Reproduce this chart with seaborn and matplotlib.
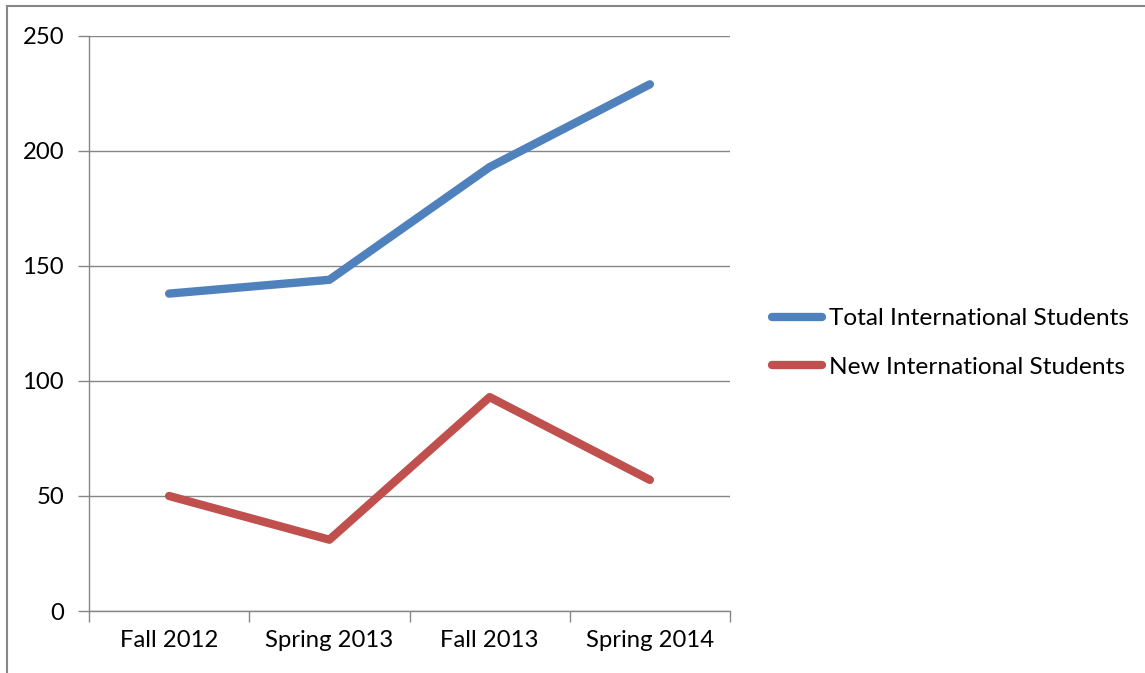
import pandas as pd
import matplotlib.pyplot as plt
import seaborn as sns
from matplotlib.patches import Rectangle

# Dados
semestres = ['Fall 2012', 'Spring 2013', 'Fall 2013', 'Spring 2014']
total_intl = [138, 144, 193, 229]
new_intl = [50, 31, 93, 57]
series_names = ['Total International Students', 'New International Students']
cores = ['#4F81BD', '#C0504D']

df = pd.DataFrame({
    'Semestre': semestres * 2,
    'Alunos': total_intl + new_intl,
    'Serie': [series_names[0]] * 4 + [series_names[1]] * 4,
})

sns.set_style('white')
plt.rcParams['font.family'] = ['Lato', 'DejaVu Sans']
plt.rcParams['text.color'] = 'black'

fig = plt.figure(figsize=(11.45, 6.73), dpi=100)
ax = fig.add_axes([89 / 1145, 1 - 611 / 673, (730 - 89) / 1145, (611 - 36) / 673])

sns.lineplot(data=df, x='Semestre', y='Alunos', hue='Serie', palette=cores,
             linewidth=6, sort=False, ax=ax, legend=True,
             solid_capstyle='round', solid_joinstyle='round')

grid_color = '#868686'
fs_ticks = 17.2
fs_leg = 17.6
ax.set_xlim(-0.5, 3.5)
ax.set_ylim(0, 250)
ax.set_yticks(range(0, 251, 50))
ax.yaxis.grid(True, color=grid_color, linewidth=1)
ax.set_axisbelow(True)
ax.set_xlabel('')
ax.set_ylabel('')
for s in ['top', 'right']:
    ax.spines[s].set_visible(False)
for s in ['left', 'bottom']:
    ax.spines[s].set_color(grid_color)
    ax.spines[s].set_linewidth(1)

# marcas do eixo x entre categorias
ax.set_xticks([0, 1, 2, 3])
ax.set_xticks([-0.5, 0.5, 1.5, 2.5, 3.5], minor=True)
ax.tick_params(axis='x', which='major', length=0, pad=14, labelsize=fs_ticks, labelcolor='black')
ax.tick_params(axis='x', which='minor', length=8, color=grid_color, width=1, bottom=True)
ax.tick_params(axis='y', length=8, color=grid_color, width=1, left=True, pad=10,
               labelsize=fs_ticks, labelcolor='black')

handles, labels = ax.get_legend_handles_labels()
ax.legend(handles, labels, loc='center left', bbox_to_anchor=(772 / 1145, 1 - 343 / 673),
          bbox_transform=fig.transFigure, frameon=False, fontsize=fs_leg,
          borderpad=0, borderaxespad=0,
          handlelength=2.05, handletextpad=0.3, labelspacing=1.12)

# moldura do gráfico
fig.patches.append(Rectangle((7 / 1145, -0.1), 1.2, 1 - 6 / 673 + 0.1,
                             transform=fig.transFigure, fill=False,
                             edgecolor='#868686', linewidth=1.5))

fig.savefig('out.png', dpi=100)
